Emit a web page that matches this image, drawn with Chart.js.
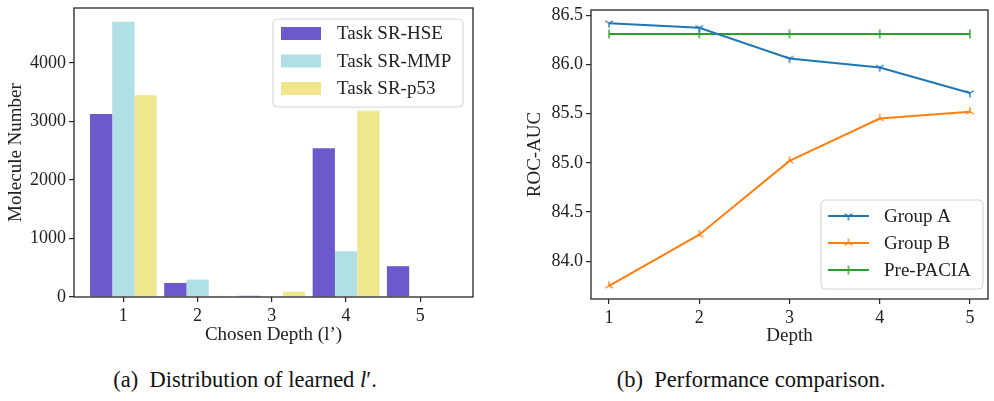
<!DOCTYPE html>
<html><head><meta charset="utf-8">
<script src="https://cdn.jsdelivr.net/npm/chart.js@4.4.0/dist/chart.umd.min.js"></script>
<style>
html,body{margin:0;padding:0;background:#fff;width:994px;height:401px;overflow:hidden;}
#wrapA{position:absolute;left:0;top:0;width:497px;height:350px;}
#wrapB{position:absolute;left:497px;top:0;width:497px;height:350px;}
.cap{position:absolute;top:367px;font-family:"Liberation Serif","Times New Roman",serif;font-size:22.5px;line-height:26px;color:#111;white-space:nowrap;transform:translateX(-50%);}
.pre{position:absolute;left:-999px;top:0;font-family:"Liberation Serif";font-size:18px;}
</style></head><body>
<div class="pre">Preload 0123 Task</div>
<div id="wrapA"><canvas id="cA" width="497" height="350"></canvas></div>
<div id="wrapB"><canvas id="cB" width="497" height="350"></canvas></div>
<div class="cap" style="left:245px">(a)&nbsp; Distribution of learned <i>l</i>′.</div>
<div class="cap" style="left:751px">(b)&nbsp; Performance comparison.</div>
<script>
// ---- data ----
const depths = [1, 2, 3, 4, 5];
const hseCounts = [3128, 240, 20, 2545, 527];
const mmpCounts = [4706, 298, 0, 784, 0];
const p53Counts = [3448, 20, 92, 3185, 0];
const countTicks = [0, 1000, 2000, 3000, 4000];
const barLabels = ['Task SR-HSE', 'Task SR-MMP', 'Task SR-p53'];

const groupA = [86.42, 86.373, 86.06, 85.97, 85.71];
const groupB = [83.75, 84.27, 85.02, 85.45, 85.52];
const prePACIA = [86.31, 86.31, 86.31, 86.31, 86.31];
const aucTicks = [84.0, 84.5, 85.0, 85.5, 86.0, 86.5];
const lineLabels = ['Group A', 'Group B', 'Pre-PACIA'];

// ---- styling ----
const FONT = '"Liberation Serif", "Times New Roman", serif';
const INK = '#222';
const tickFont = {family: FONT, size: 18};
const titleFont = {family: FONT, size: 19};

const pts = (xs, ys) => xs.map((x, i) => ({x: x, y: ys[i]}));

function triMarker(color, down) {
  const s = 14, cv = document.createElement('canvas');
  cv.width = s; cv.height = s;
  const g = cv.getContext('2d');
  const r = 4.5, cx = s / 2, cy = s / 2, d = down ? 1 : -1;
  g.strokeStyle = color; g.lineWidth = 1.4;
  g.beginPath();
  g.moveTo(cx, cy); g.lineTo(cx, cy + d * r);
  g.moveTo(cx, cy); g.lineTo(cx - 0.866 * r, cy - d * 0.5 * r);
  g.moveTo(cx, cy); g.lineTo(cx + 0.866 * r, cy - d * 0.5 * r);
  g.stroke();
  return cv;
}
function vlineMarker(color) {
  const s = 14, cv = document.createElement('canvas');
  cv.width = s; cv.height = s;
  const g = cv.getContext('2d');
  g.strokeStyle = color; g.lineWidth = 1.4;
  g.beginPath(); g.moveTo(s / 2, s / 2 - 4.5); g.lineTo(s / 2, s / 2 + 4.5); g.stroke();
  return cv;
}

const framePlugin = {
  id: 'frame',
  afterDatasetsDraw(chart) {
    const a = chart.chartArea, c = chart.ctx;
    c.save();
    c.strokeStyle = '#262626'; c.lineWidth = 1.3;
    c.strokeRect(a.left, a.top, a.right - a.left, a.bottom - a.top);
    c.restore();
  }
};

function rrect(c, x, y, w, h, r) {
  c.beginPath();
  c.moveTo(x + r, y); c.lineTo(x + w - r, y); c.quadraticCurveTo(x + w, y, x + w, y + r);
  c.lineTo(x + w, y + h - r); c.quadraticCurveTo(x + w, y + h, x + w - r, y + h);
  c.lineTo(x + r, y + h); c.quadraticCurveTo(x, y + h, x, y + h - r);
  c.lineTo(x, y + r); c.quadraticCurveTo(x, y, x + r, y); c.closePath();
}

const boxLegend = {
  id: 'boxLegend',
  afterDraw(chart, args, o) {
    const c = chart.ctx;
    c.save();
    rrect(c, o.x, o.y, o.w, o.h, 4);
    c.fillStyle = 'rgba(255,255,255,0.85)'; c.fill();
    c.strokeStyle = '#d4d4d4'; c.lineWidth = 1; c.stroke();
    c.font = '19px ' + FONT; c.textBaseline = 'middle'; c.textAlign = 'left';
    chart.data.datasets.forEach((ds, i) => {
      const cy = o.rowY[i];
      if (o.kind === 'patch') {
        c.fillStyle = ds.backgroundColor;
        c.fillRect(o.symX, cy - o.patchH / 2, o.symW, o.patchH);
      } else {
        c.strokeStyle = ds.borderColor; c.lineWidth = 2;
        c.beginPath(); c.moveTo(o.symX, cy); c.lineTo(o.symX + o.symW, cy); c.stroke();
        const m = ds.pointStyle;
        c.drawImage(m, o.symX + o.symW / 2 - m.width / 2, cy - m.height / 2);
      }
      c.fillStyle = INK;
      c.fillText(ds.label, o.textX, cy + 1);
    });
    c.restore();
  }
};

function fixedTicks(arr) {
  return function (scale) { scale.ticks = arr.map(v => ({value: v})); };
}
function fixW(w) { return function (s) { s.width = w; s.paddingTop = 0; s.paddingBottom = 0; }; }
function fixH(h) { return function (s) { s.height = h; s.paddingLeft = 0; s.paddingRight = 0; }; }

const tickGrid = {display: true, offset: false, drawOnChartArea: false, drawTicks: true, tickLength: 5, color: '#262626', lineWidth: 1.2};

function draw() {
  Chart.defaults.font.family = FONT;
  Chart.defaults.font.size = 18;
  Chart.defaults.color = INK;

  // ---- chart (a) ----
  new Chart(document.getElementById('cA'), {
    type: 'bar',
    data: {
      datasets: [
        {label: barLabels[0], data: pts(depths, hseCounts), backgroundColor: '#6a5acd'},
        {label: barLabels[1], data: pts(depths, mmpCounts), backgroundColor: '#b0e0e6'},
        {label: barLabels[2], data: pts(depths, p53Counts), backgroundColor: '#f0e68c'}
      ]
    },
    options: {
      responsive: false, animation: false, devicePixelRatio: 1,
      layout: {padding: {left: 0, top: 8, right: 24, bottom: 0}},
      datasets: {bar: {categoryPercentage: 0.9, barPercentage: 1.0, borderWidth: 0}},
      plugins: {
        legend: {display: false}, tooltip: {enabled: false},
        boxLegend: {kind: 'patch', x: 273, y: 19, w: 190, h: 88, symX: 281, symW: 40, patchH: 13, textX: 337, rowY: [33.5, 61, 88.5]}
      },
      scales: {
        x: {
          type: 'linear', min: 0.335, max: 5.71, offset: false,
          afterBuildTicks: fixedTicks(depths), afterFit: fixH(53),
          grid: tickGrid, border: {display: false},
          ticks: {padding: 3, font: tickFont, color: INK, callback: v => String(v), maxRotation: 0},
          title: {display: true, text: 'Chosen Depth (l’)', font: titleFont, color: INK, padding: {top: 0, bottom: 4}}
        },
        y: {
          min: 0, max: 4941,
          afterBuildTicks: fixedTicks(countTicks), afterFit: fixW(74),
          grid: tickGrid, border: {display: false},
          ticks: {padding: 3, font: tickFont, color: INK, callback: v => String(v)},
          title: {display: true, text: 'Molecule Number', font: titleFont, color: INK, padding: {top: 5, bottom: 0}}
        }
      }
    },
    plugins: [framePlugin, boxLegend]
  });

  // ---- chart (b) ----
  const cA_ = '#1f77b4', cB_ = '#ff7f0e', cC_ = '#2ca02c';
  new Chart(document.getElementById('cB'), {
    type: 'line',
    data: {
      datasets: [
        {label: lineLabels[0], data: pts(depths, groupA), borderColor: cA_, backgroundColor: cA_, pointStyle: triMarker(cA_, true)},
        {label: lineLabels[1], data: pts(depths, groupB), borderColor: cB_, backgroundColor: cB_, pointStyle: triMarker(cB_, false)},
        {label: lineLabels[2], data: pts(depths, prePACIA), borderColor: cC_, backgroundColor: cC_, pointStyle: vlineMarker(cC_)}
      ]
    },
    options: {
      responsive: false, animation: false, devicePixelRatio: 1,
      layout: {padding: {left: 20, top: 10, right: 1, bottom: 0}},
      datasets: {line: {borderWidth: 2, tension: 0, pointRadius: 4, fill: false}},
      plugins: {
        legend: {display: false}, tooltip: {enabled: false},
        boxLegend: {kind: 'line', x: 324, y: 200, w: 162, h: 89, symX: 331, symW: 41, textX: 387, rowY: [216, 243, 270]}
      },
      scales: {
        x: {
          type: 'linear', min: 0.8, max: 5.2, offset: false,
          afterBuildTicks: fixedTicks(depths), afterFit: fixH(51),
          grid: tickGrid, border: {display: false},
          ticks: {padding: 3, font: tickFont, color: INK, callback: v => String(v), maxRotation: 0},
          title: {display: true, text: 'Depth', font: titleFont, color: INK, padding: {top: 0, bottom: 2.5}}
        },
        y: {
          min: 83.6165, max: 86.5535,
          afterBuildTicks: fixedTicks(aucTicks), afterFit: fixW(74),
          grid: tickGrid, border: {display: false},
          ticks: {padding: 3, font: tickFont, color: INK, callback: v => v.toFixed(1)},
          title: {display: true, text: 'ROC-AUC', font: titleFont, color: INK, padding: {top: 7, bottom: 0}}
        }
      }
    },
    plugins: [framePlugin, boxLegend]
  });
}

let done = false;
function go() { if (!done) { done = true; draw(); } }
if (document.fonts && document.fonts.load) {
  Promise.all([
    document.fonts.load('18px "Liberation Serif"'),
    document.fonts.load('19px "Liberation Serif"'),
    document.fonts.load('italic 18px "Liberation Serif"')
  ]).then(go, go);
  setTimeout(go, 1500);
} else { go(); }
</script>
</body></html>
